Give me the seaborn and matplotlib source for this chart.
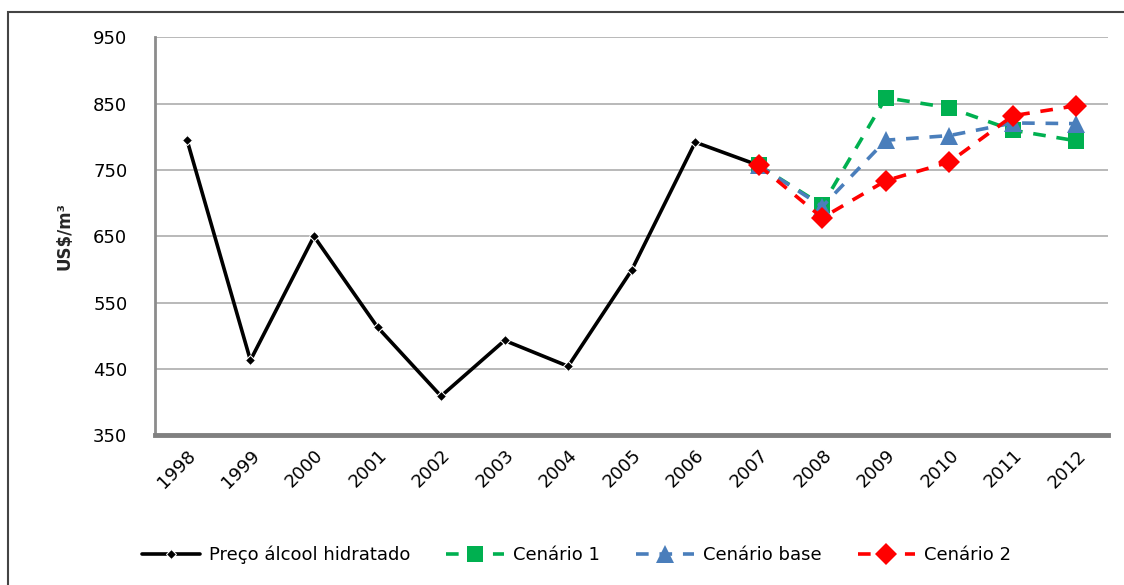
import matplotlib
matplotlib.use("Agg")
import matplotlib.pyplot as plt
import seaborn as sns
from matplotlib.patches import Rectangle

# dados
anos = [1998, 1999, 2000, 2001, 2002, 2003, 2004, 2005, 2006, 2007, 2008, 2009, 2010, 2011, 2012]
anos_hist = anos[:10]
anos_cen = anos[9:]
preco_alcool = [796, 463, 650, 513, 409, 493, 454, 599, 792, 757]
cenario_1 = [757, 697, 859, 844, 810, 794]
cenario_base = [757, 695, 795, 802, 821, 820]
cenario_2 = [757, 678, 734, 762, 832, 847]
yticks = [350, 450, 550, 650, 750, 850, 950]

sns.set_theme(style="white")
plt.rcParams['font.family'] = ['DejaVu Sans']
plt.rcParams['text.color'] = 'black'
plt.rcParams['xtick.color'] = 'black'
plt.rcParams['ytick.color'] = 'black'

fig = plt.figure(figsize=(11.24, 5.85), dpi=100)
ax = fig.add_axes([0.138, 0.256, 0.848, 0.680])

sns.lineplot(x=anos_hist, y=preco_alcool, color="black", lw=2.6, marker="D",
             markersize=5, label="Preço álcool hidratado", ax=ax)
series = [("Cenário 1", cenario_1, "#00b050", "s", 12),
          ("Cenário base", cenario_base, "#4a7ebb", "^", 13),
          ("Cenário 2", cenario_2, "#ff0000", "D", 11)]
for nome, vals, cor, mk, ms in series:
    sns.lineplot(x=anos_cen, y=vals, color=cor, lw=2.6, marker=mk, markersize=ms,
                 markeredgewidth=0, dashes=(3.5, 3), label=nome, ax=ax)

ax.set_xlim(1997.5, 2012.5)
ax.set_ylim(350, 950)
ax.set_yticks(yticks)
ax.set_xticks(anos)
ax.set_xticklabels([str(a) for a in anos], rotation=45, ha="right",
                   rotation_mode="anchor", fontsize=13)
ax.tick_params(axis="y", length=0, pad=20, labelsize=13)
ax.tick_params(axis="x", length=0, pad=8)
ax.grid(axis="y", color="#b3b3b3", lw=1.3)
ax.grid(axis="x", visible=False)
for s in ["top", "right"]:
    ax.spines[s].set_visible(False)
ax.spines["left"].set_color("#8c8c8c")
ax.spines["left"].set_linewidth(2)
ax.spines["bottom"].set_color("#808080")
ax.spines["bottom"].set_linewidth(3.5)
ax.set_xlabel("")
ax.set_ylabel("US$/m³", fontsize=12, fontweight="bold", labelpad=14)

ax.legend(loc="center", bbox_to_anchor=(0.513, 0.052), bbox_transform=fig.transFigure,
          ncol=4, frameon=False, fontsize=13, handlelength=3.2, columnspacing=2.0,
          handletextpad=0.5)

# moldura externa (lado direito e inferior fora da imagem)
fig.patches.append(Rectangle((0.007, -0.05), 1.05, 1.03, transform=fig.transFigure,
                             fill=False, edgecolor="#444444", lw=1.5))

fig.savefig("out.png", dpi=100)
